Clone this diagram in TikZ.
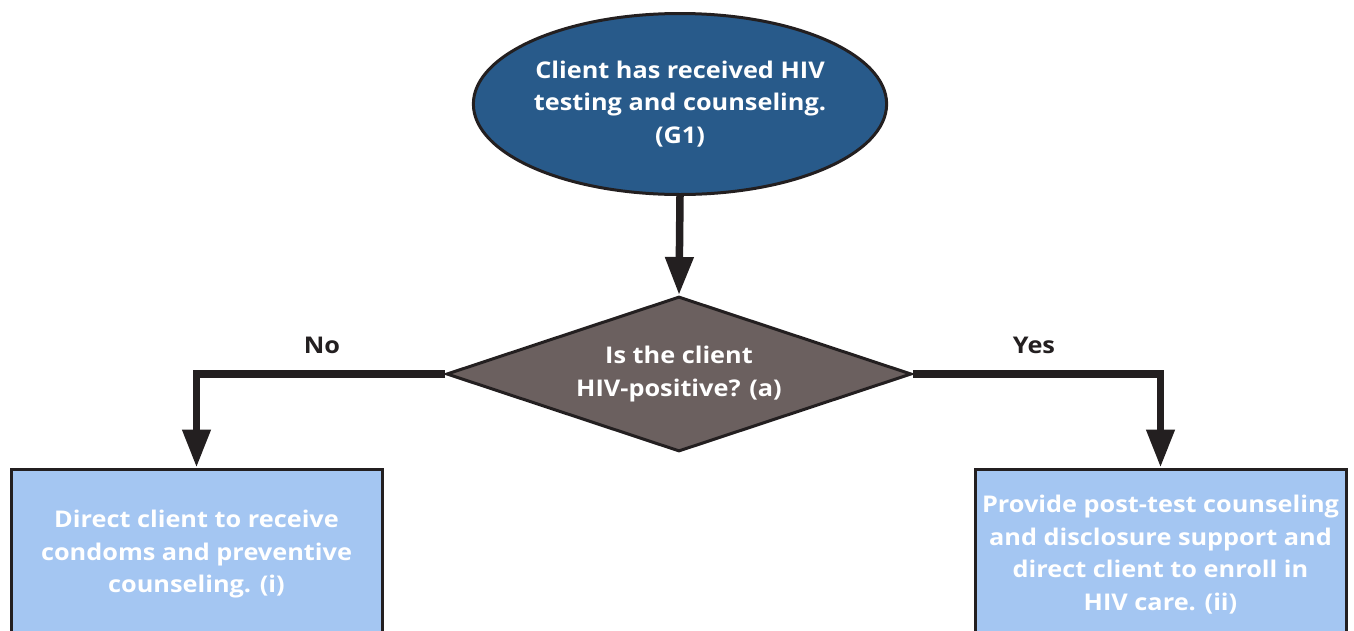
\documentclass[tikz,border=0pt]{standalone}
\usepackage{fontspec}
\setmainfont[FakeStretch=1.1]{Open Sans}
\usetikzlibrary{shapes.geometric,arrows.meta}

\definecolor{startblue}{HTML}{285A8A}
\definecolor{decisiongray}{HTML}{6B605F}
\definecolor{actionblue}{HTML}{A4C6F2}
\definecolor{inkline}{HTML}{231F20}

\tikzset{
  label text/.style={font=\fontsize{23}{32.5}\selectfont\bfseries, align=center},
  startnode/.style={ellipse, draw=inkline, line width=3pt, fill=startblue,
    text=white, label text, minimum width=402pt, minimum height=181pt, inner sep=0pt},
  decisionnode/.style={diamond, draw=inkline, line width=3pt, fill=decisiongray,
    text=white, label text, aspect=2.96, minimum width=465pt, minimum height=155pt, inner sep=0pt},
  actionnode/.style={rectangle, draw=inkline, line width=3pt, fill=actionblue,
    text=white, label text, minimum width=371pt, minimum height=171pt, inner sep=0pt},
  flow/.style={draw=inkline, line width=7.5pt,
    -{Triangle[width=27pt,length=38pt]}},
  branch/.style={text=inkline, label text},
}

\begin{document}
\begin{tikzpicture}[x=1pt,y=-1pt]
  \useasboundingbox (0,0) rectangle (1354,630);
  \clip (0,0) rectangle (1354,630);

  \node[startnode] (start) at (680,104)
    {Client has received HIV\\testing and counseling.\\(G1)};
  \node[decisionnode] (decide) at (679,374)
    {Is the client\\HIV-positive? (a)};
  \node[actionnode] (prevent) at (196.5,554.5)
    {Direct client to receive\\condoms and preventive\\counseling. (i)};
  \node[actionnode] (care) at (1160.5,554.5)
    {Provide post-test counseling\\and disclosure support and\\direct client to enroll in\\HIV care. (ii)};

  \draw[flow] (start.south) -- (decide.north);
  \draw[flow] (decide.west) -| (prevent.north);
  \draw[flow] (decide.east) -| (care.north);

  \node[branch] (nolabel) at (322,345) {No};
  \node[branch] (yeslabel) at (1034,345) {Yes};
\end{tikzpicture}
\end{document}
